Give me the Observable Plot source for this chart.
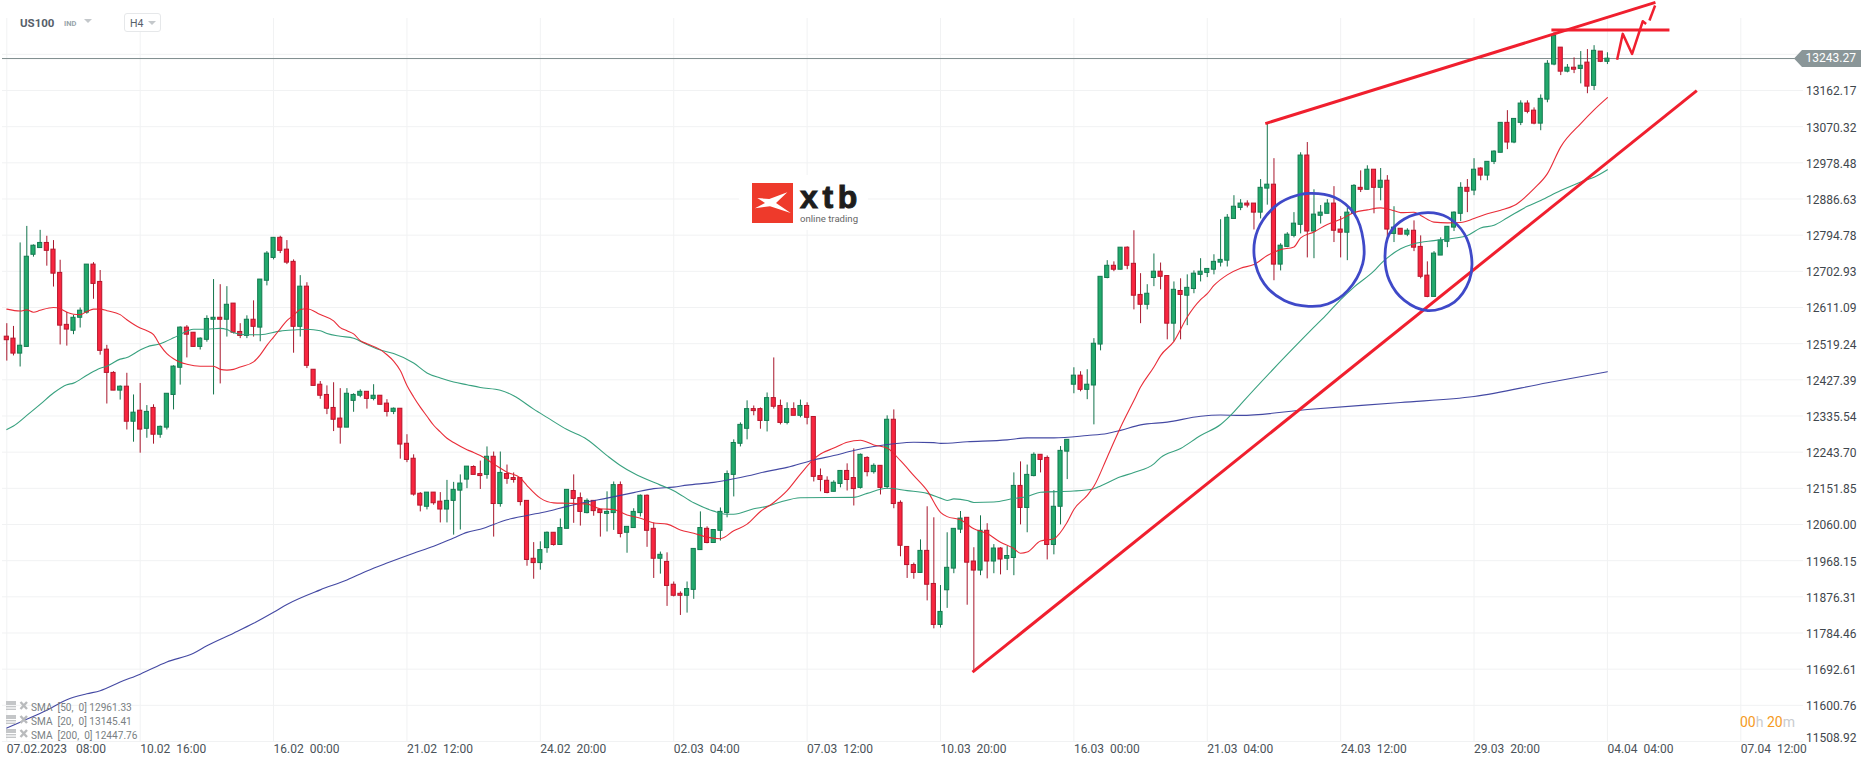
<!DOCTYPE html>
<html><head><meta charset="utf-8">
<script src="https://cdn.jsdelivr.net/npm/d3@7"></script>
<script src="https://cdn.jsdelivr.net/npm/@observablehq/plot@0.6"></script>
<style>
html,body{margin:0;padding:0;background:#fff;font-family:Roboto,sans-serif}
#wrap{position:relative;width:1866px;height:767px;overflow:hidden}
#wrap svg{display:block}
.ov{position:absolute;white-space:pre}
</style></head><body><div id="wrap"></div>
<script>
const open=[12537,12532,12494,12511,12745,12762,12775,12758,12699,12567,
12552,12585,12598,12720,12676,12504,12445,12400,12410,12321,
12349,12303,12356,12288,12306,12389,12458,12560,12547,12511,
12529,12580,12585,12580,12621,12549,12539,12580,12560,12679,
12737,12788,12758,12727,12562,12664,12453,12415,12389,12356,
12329,12306,12374,12387,12397,12379,12387,12367,12346,12354,
12265,12227,12138,12105,12141,12118,12098,12120,12146,12174,
12206,12188,12186,12232,12112,12188,12178,12178,12120,11973,
11962,12000,12039,12008,12049,12145,12127,12089,12120,12097,
12087,12089,12160,12039,12051,12089,12133,12049,11973,11965,
11907,11884,11879,11894,11995,12049,12013,12044,12089,12186,
12265,12303,12353,12353,12323,12381,12361,12318,12353,12336,
12361,12333,12183,12171,12143,12163,12196,12178,12153,12229,
12193,12209,12155,12326,12115,12003,11957,11937,11993,11909,
11805,11893,11948,12047,12077,11966,11943,12044,11966,11999,
11973,11975,12158,12102,12183,12237,12229,12008,12105,12245,
12415,12438,12402,12413,12517,12686,12717,12707,12763,12722,
12643,12618,12686,12702,12691,12570,12653,12641,12658,12694,
12699,12707,12725,12730,12836,12864,12875,12875,12852,12913,
12923,12720,12765,12793,12821,12997,12804,12844,12849,12875,
12809,12801,12849,12915,12910,12961,12915,12933,12798,12811,
12796,12806,12765,12692,12638,12743,12778,12814,12849,12915,
12908,12964,12946,12981,13004,13080,13030,13080,13129,13111,
13078,13139,13228,13271,13210,13220,13217,13233,13174,13261,13235];
const high=[12570,12563,12775,12817,12770,12807,12792,12781,12731,12599,
12591,12610,12720,12725,12705,12515,12448,12412,12444,12389,
12418,12362,12364,12310,12392,12463,12562,12565,12547,12534,
12590,12682,12669,12664,12621,12570,12590,12628,12682,12753,
12788,12792,12781,12732,12692,12674,12453,12423,12412,12420,
12405,12405,12392,12402,12397,12415,12387,12377,12356,12354,
12288,12237,12141,12141,12141,12141,12172,12167,12186,12207,
12209,12221,12257,12244,12244,12211,12191,12178,12120,12014,
12016,12041,12039,12074,12148,12186,12140,12125,12120,12097,
12143,12168,12168,12054,12100,12135,12135,12064,11990,11988,
11914,11889,11914,11998,12092,12054,12046,12102,12196,12275,
12318,12374,12361,12356,12394,12483,12376,12369,12369,12376,
12369,12333,12201,12181,12171,12196,12214,12252,12239,12232,
12214,12209,12336,12351,12120,12003,11962,12021,12105,12077,
11905,12039,12049,12093,12077,12001,12082,12062,12009,12001,
12004,12191,12219,12211,12242,12237,12234,12146,12258,12275,
12458,12448,12453,12532,12689,12730,12727,12763,12765,12806,
12697,12669,12747,12724,12691,12676,12684,12694,12704,12735,
12709,12745,12834,12847,12895,12885,12882,12875,12936,13078,
12989,12773,12801,12852,13004,13030,12910,12870,12885,12918,
12842,12864,12923,12958,12971,12961,12964,12946,12867,12811,
12811,12831,12793,12727,12753,12788,12816,12854,12928,12936,
12989,12966,12981,13009,13080,13111,13090,13136,13136,13118,
13151,13238,13309,13271,13228,13245,13261,13266,13276,13261,13258];
const low=[12475,12488,12460,12511,12739,12762,12716,12663,12516,12513,
12542,12559,12594,12632,12490,12366,12400,12376,12300,12269,
12241,12279,12264,12279,12300,12351,12414,12483,12511,12503,
12523,12389,12417,12536,12544,12532,12532,12536,12524,12666,
12732,12748,12720,12495,12536,12456,12412,12378,12339,12296,
12264,12306,12345,12382,12353,12374,12364,12333,12339,12226,
12217,12132,12092,12097,12109,12064,12064,12033,12046,12151,
12186,12149,12175,12028,12104,12162,12165,12107,11954,11921,
11944,11987,12005,12008,12049,12063,12056,12087,12081,12028,
12041,12045,12026,11987,12051,12079,12002,11923,11934,11852,
11876,11829,11835,11870,11995,12011,12013,12018,12077,12130,
12257,12275,12336,12302,12295,12353,12313,12313,12336,12331,
12313,12168,12143,12138,12143,12153,12145,12107,12150,12181,
12188,12135,12150,12100,11978,11923,11921,11937,11866,11795,
11797,11847,11935,12037,11855,11685,11930,11922,11935,11932,
11943,11930,12059,12039,12181,12191,11970,11983,12059,12174,
12392,12397,12377,12313,12501,12684,12702,12707,12707,12605,
12570,12605,12664,12656,12529,12524,12529,12565,12646,12676,
12687,12694,12714,12714,12836,12857,12864,12808,12836,12871,
12679,12704,12763,12788,12798,12737,12735,12823,12849,12776,
12737,12730,12849,12903,12910,12849,12882,12783,12776,12796,
12791,12753,12684,12636,12638,12743,12763,12804,12829,12852,
12895,12933,12933,12974,13004,13012,13027,13073,13103,13075,
13060,13131,13225,13200,13207,13205,13179,13154,13162,13233,13228];
const close=[12528,12494,12514,12740,12768,12775,12755,12697,12565,12555,
12585,12603,12720,12671,12501,12445,12400,12410,12321,12344,
12301,12346,12288,12308,12392,12461,12560,12542,12511,12532,
12582,12585,12580,12618,12547,12539,12580,12562,12682,12748,
12788,12755,12725,12562,12664,12463,12412,12387,12354,12326,
12306,12392,12389,12397,12379,12387,12364,12346,12354,12263,
12224,12136,12108,12141,12114,12098,12120,12148,12164,12207,
12186,12183,12232,12112,12191,12176,12173,12117,11970,11962,
11995,12039,12008,12051,12148,12125,12092,12120,12094,12089,
12092,12160,12036,12054,12092,12133,12044,11973,11983,11904,
11879,11879,11896,11998,12051,12013,12046,12092,12188,12267,
12313,12353,12348,12323,12381,12359,12318,12353,12336,12361,
12331,12181,12173,12140,12166,12196,12173,12150,12237,12193,
12209,12153,12326,12112,12006,11957,11937,11993,11907,11805,
11838,11950,12049,12075,11963,11943,12044,11966,11999,11971,
11980,12158,12102,12186,12237,12224,12008,12105,12247,12275,
12438,12402,12415,12519,12689,12717,12707,12763,12717,12641,
12618,12646,12702,12689,12570,12656,12643,12661,12697,12702,
12709,12727,12732,12839,12867,12875,12870,12852,12915,12923,
12720,12768,12796,12824,12997,12804,12847,12852,12875,12806,
12801,12852,12920,12910,12961,12915,12933,12809,12814,12796,
12806,12763,12689,12638,12748,12781,12816,12852,12915,12905,
12961,12946,12981,13007,13080,13030,13090,13129,13108,13078,
13141,13230,13301,13210,13220,13215,13225,13172,13263,13235,13243];

const sma20Index=[0,2,3,4,5,7,8,9,10,11,12,13,14,15,17,18,20,21,22,23,24,25,26,27,29,31,32,33,34,35,37,38,39,40,41,42,43,44,45,47,49,50,51,52,53,54,56,57,58,59,60,61,62,63,64,65,66,67,69,70,71,73,75,77,78,80,82,84,87,89,91,93,95,97,99,101,103,105,107,109,111,113,115,117,119,121,122,124,126,128,130,132,134,136,138,140,141,143,145,147,149,151,152,153,155,157,159,160,162,163,165,167,169,170,172,173,175,177,179,180,181,183,185,187,189,191,193,194,196,198,200,202,204,206,208,209,211,212,214,216,218,220,222,224,226,229,231,233,236,238,240];
const sma20Value=[12607,12602,12605,12599,12604,12611,12608,12599,12594,12593,12601,12607,12607,12603,12593,12580,12559,12552,12542,12515,12494,12481,12472,12467,12462,12462,12454,12452,12454,12460,12473,12491,12515,12536,12557,12578,12591,12606,12608,12593,12577,12560,12552,12544,12527,12519,12504,12491,12475,12451,12413,12384,12358,12335,12312,12295,12279,12268,12250,12243,12235,12214,12193,12178,12159,12127,12115,12114,12112,12100,12098,12084,12076,12064,12061,12046,12038,12028,12024,12044,12061,12093,12116,12146,12188,12226,12239,12254,12269,12274,12262,12254,12222,12184,12146,12091,12080,12072,12049,12037,12015,11999,11987,11990,12018,12024,12066,12098,12134,12157,12231,12307,12375,12409,12460,12489,12525,12587,12631,12646,12667,12694,12711,12720,12743,12758,12765,12788,12803,12822,12835,12852,12859,12864,12857,12852,12853,12845,12828,12826,12827,12837,12849,12858,12870,12913,12951,13019,13078,13113,13144];

const sma50Index=[0,1,3,5,7,9,10,12,14,15,17,18,20,21,23,25,27,28,30,32,33,34,36,38,41,43,45,47,48,50,52,54,56,58,61,63,65,67,69,71,74,76,79,81,84,87,90,92,94,98,100,103,106,108,109,112,114,116,119,127,129,132,135,138,140,141,142,144,145,148,151,153,155,160,163,164,167,169,172,173,176,179,182,184,185,196,198,200,202,205,206,207,209,211,214,217,219,221,223,225,228,230,233,236,238,240];
const sma50Value=[12301,12310,12337,12365,12394,12415,12419,12439,12457,12462,12480,12484,12503,12511,12519,12534,12551,12556,12556,12558,12555,12547,12542,12542,12551,12554,12556,12552,12545,12538,12533,12517,12503,12494,12470,12445,12432,12422,12415,12408,12401,12387,12353,12332,12301,12276,12235,12210,12190,12160,12146,12115,12094,12086,12086,12100,12106,12117,12128,12129,12139,12152,12146,12139,12127,12121,12125,12121,12116,12117,12126,12131,12142,12145,12151,12158,12181,12192,12214,12230,12253,12286,12314,12346,12365,12561,12595,12631,12663,12704,12722,12737,12760,12773,12781,12787,12794,12813,12820,12839,12868,12883,12908,12930,12942,12961];

const sma200Index=[0,2,6,9,12,14,17,20,24,28,30,34,37,40,42,47,51,54,57,61,64,67,69,71,75,78,81,84,87,90,94,97,100,102,106,109,111,114,117,121,124,127,130,133,136,139,140,144,150,153,157,162,165,167,170,174,179,182,185,195,209,220,231,240];
const sma200Value=[11543,11558,11588,11615,11630,11638,11660,11680,11711,11733,11752,11784,11809,11837,11857,11894,11919,11942,11962,11987,12005,12026,12040,12048,12072,12083,12093,12106,12117,12127,12141,12151,12155,12160,12167,12176,12183,12195,12205,12224,12235,12248,12258,12265,12269,12268,12266,12270,12275,12280,12280,12286,12291,12299,12313,12320,12335,12338,12337,12352,12370,12385,12420,12447.76];

const upperTrendIndex=[188.7,247.2], upperTrendPrice=[13078,13386];
const flatTrendIndex=[231.6,249.3], flatTrendPrice=[13316,13316];
const lowerTrendIndex=[144.8,253.4], lowerTrendPrice=[11685,13162];
const squiggleIndex=[241.45,242.3,243.7,245.3,245.8], squigglePrice=[13240,13306,13255,13338,13331];
const squiggleTailIndex=[246.3,247.15], squiggleTailPrice=[13340,13378];
const circleOneIndex=[195.2,199.05,202.05,203.4,203.3,201.05,198.05,195.2,191.55,188.55,187.05,187.55,190.05,192.55];
const circleOnePrice=[12901,12891,12849,12781,12722,12654,12620,12614,12629,12671,12739,12807,12866,12891];
const circleTwoIndex=[213.05,216.05,218.55,219.65,219.3,217.05,213.05,209.55,207.3,206.65,207.3,209.55];
const circleTwoPrice=[12852,12840,12798,12735,12680,12625,12603,12629,12680,12739,12798,12836];

const lastPrice=13243.27;
const yTicks=[13162.17,13070.32,12978.48,12886.63,12794.78,12702.93,12611.09,12519.24,12427.39,12335.54,12243.70,12151.85,12060.00,11968.15,11876.31,11784.46,11692.61,11600.76];
const yBottomTick=[11508.92];
const yGridExtra=[13254.02];
const xTicks=[0,20,40,60,80,100,120,140,160,180,200,220,240,260];
const xLabels=["07.02.2023\u00a0\u00a0\u00a008:00","10.02\u00a0\u00a016:00","16.02\u00a0\u00a000:00","21.02\u00a0\u00a012:00","24.02\u00a0\u00a020:00","02.03\u00a0\u00a004:00","07.03\u00a0\u00a012:00","10.03\u00a0\u00a020:00","16.03\u00a0\u00a000:00","21.03\u00a0\u00a004:00","24.03\u00a0\u00a012:00","29.03\u00a0\u00a020:00","04.04\u00a0\u00a004:00","07.04\u00a0\u00a012:00"];
const legendRows=["SMA  [50,  0] 12961.33","SMA  [20,  0] 13145.41","SMA  [200,  0] 12447.76"];

const zipXY=(xs,ys)=>xs.map((x,k)=>({x,y:ys[k]}));
const candles=open.map((o,i)=>({i,o,h:high[i],l:low[i],c:close[i]}));
const up=candles.filter(d=>d.c>=d.o), down=candles.filter(d=>d.c<d.o);
const body=(data,fill,stroke)=>Plot.rect(data,{x1:d=>d.i-.31,x2:d=>d.i+.31,y1:"o",y2:"c",fill,stroke,strokeWidth:1});
const wick=(data,stroke)=>Plot.ruleX(data,{x:"i",y1:"l",y2:"h",stroke,strokeWidth:1});
const sma=(xs,ys,stroke)=>Plot.line(zipXY(xs,ys),{x:"x",y:"y",stroke,strokeWidth:1.1,curve:"monotone-x",strokeOpacity:.95});
const red="#f01f2e", blue="#3f49c8";
const pen=(xs,ys,w=3)=>Plot.line(zipXY(xs,ys),{x:"x",y:"y",stroke:red,strokeWidth:w,strokeLinecap:"butt"});
const circle=(xs,ys)=>Plot.line(zipXY(xs,ys),{x:"x",y:"y",stroke:blue,strokeWidth:2.8,curve:"catmull-rom-closed"});
const yAxis=(ticks,dy)=>Plot.axisY(ticks,{anchor:"right",tickSize:0,tickPadding:2.5,dy,fill:"#3f474d",fontSize:12,label:null,tickFormat:d=>d.toFixed(2)});

const chart=Plot.plot({
  width:1866,height:767,marginLeft:2,marginRight:63,marginTop:18,marginBottom:26,
  style:{background:"#fff",fontFamily:"Roboto,sans-serif",fontSize:"12px",overflow:"visible"},
  x:{type:"linear",domain:[-0.645,269.4],label:null},
  y:{type:"linear",domain:[11508.92,13345.0],label:null},
  marks:[
    Plot.gridX(xTicks,{stroke:"#f1f2f3",strokeOpacity:1,strokeWidth:1}),
    Plot.gridY(yTicks.concat(yGridExtra,yBottomTick),{stroke:"#f1f2f3",strokeOpacity:1,strokeWidth:1}),
    Plot.axisX(xTicks,{anchor:"bottom",tickSize:0,tickPadding:3,textAnchor:"start",fill:"#4a5258",fontSize:12,label:null,
      tickFormat:d=>xLabels[xTicks.indexOf(d)]}),
    yAxis(yTicks,1),
    yAxis(yBottomTick,-3),
    Plot.ruleY([lastPrice],{stroke:"#7d8b8c",strokeWidth:1}),
    wick(up,"#12744c"),wick(down,"#a8172c"),
    body(up,"#22a96c","#137a50"),body(down,"#f8253f","#b5152b"),
    sma(sma200Index,sma200Value,"#3a3f9e"),
    sma(sma50Index,sma50Value,"#2d9c78"),
    sma(sma20Index,sma20Value,"#e8222e"),
    pen(upperTrendIndex,upperTrendPrice),
    pen(flatTrendIndex,flatTrendPrice),
    pen(lowerTrendIndex,lowerTrendPrice),
    pen(squiggleIndex,squigglePrice,2.5),
    pen(squiggleTailIndex,squiggleTailPrice,2.5),
    circle(circleOneIndex,circleOnePrice),
    circle(circleTwoIndex,circleTwoPrice)
  ]
});
const wrap=document.getElementById("wrap");
wrap.appendChild(chart);

const add=(css,html)=>{const e=document.createElement("div");e.className="ov";e.style.cssText=css;e.innerHTML=html;wrap.appendChild(e);return e;};
// instrument header
add("left:20px;top:16px;font:700 11.5px/14px Roboto;color:#56606a","US100");
add("left:64px;top:18px;font:700 7.5px/11px Roboto;color:#98a4aa","IND");
add("left:84px;top:19px;width:0;height:0;border-left:4px solid transparent;border-right:4px solid transparent;border-top:4px solid #c4c8cb","");
add("left:124px;top:13px;width:35px;height:17px;border:1px solid #e6e8ea;border-radius:3px;background:#fff","");
add("left:130px;top:17px;font:400 10.5px/13px Roboto;color:#56606a","H4");
add("left:148px;top:21px;width:0;height:0;border-left:4px solid transparent;border-right:4px solid transparent;border-top:4px solid #c4c8cb","");
// price tag
add("left:1794px;top:50px;width:67px;height:17px;background:#8a9698;clip-path:polygon(0 50%,8px 0,100% 0,100% 100%,8px 100%);color:#fff;font:400 12px/17px Roboto","<span style='position:absolute;left:11.5px'>13243.27</span>");
// logo
add("left:739px;top:175px;width:129px;height:55px;background:#fff","");
add("left:752px;top:183px;width:41px;height:40px;background:#ee3a2b","<svg width='41' height='40' style='display:block'><polygon points='5.3,15 17.3,16 35.3,9.3 24,20 38.7,30 18,23.3 3,25.3 13,20' fill='#fff'/></svg>");
add("left:800px;top:180px;font:900 32px/34px 'Liberation Sans';letter-spacing:4.6px;color:#1d1d1d;-webkit-text-stroke:1px #1d1d1d","xtb");
add("left:800px;top:211.5px;font:400 9.6px/13px Roboto;color:#666","online trading");
// indicator legend
legendRows.forEach((t,k)=>{
  const top=701+k*14;
  add(`left:6px;top:${top}px`,"<svg width='23' height='10' style='display:block'><g fill='#c4c6c8'><rect x='0' y='0' width='10' height='4'/><rect x='0' y='5' width='10' height='1.4'/><rect x='0' y='7.6' width='10' height='1.4'/></g><path d='M14.5 1 L21 8 M21 1 L14.5 8' stroke='#b9bbbd' stroke-width='2.4'/></svg>");
  add(`left:31px;top:${top-0.5}px;font:400 10.1px/13px Roboto;color:#7a7f83`,t);
});
// countdown
add("left:1740px;top:714px;font:400 14px/17px Roboto;color:#c9cccf","<span style='color:#f59a23'>00</span>h <span style='color:#f59a23'>20</span>m");
</script></body></html>
